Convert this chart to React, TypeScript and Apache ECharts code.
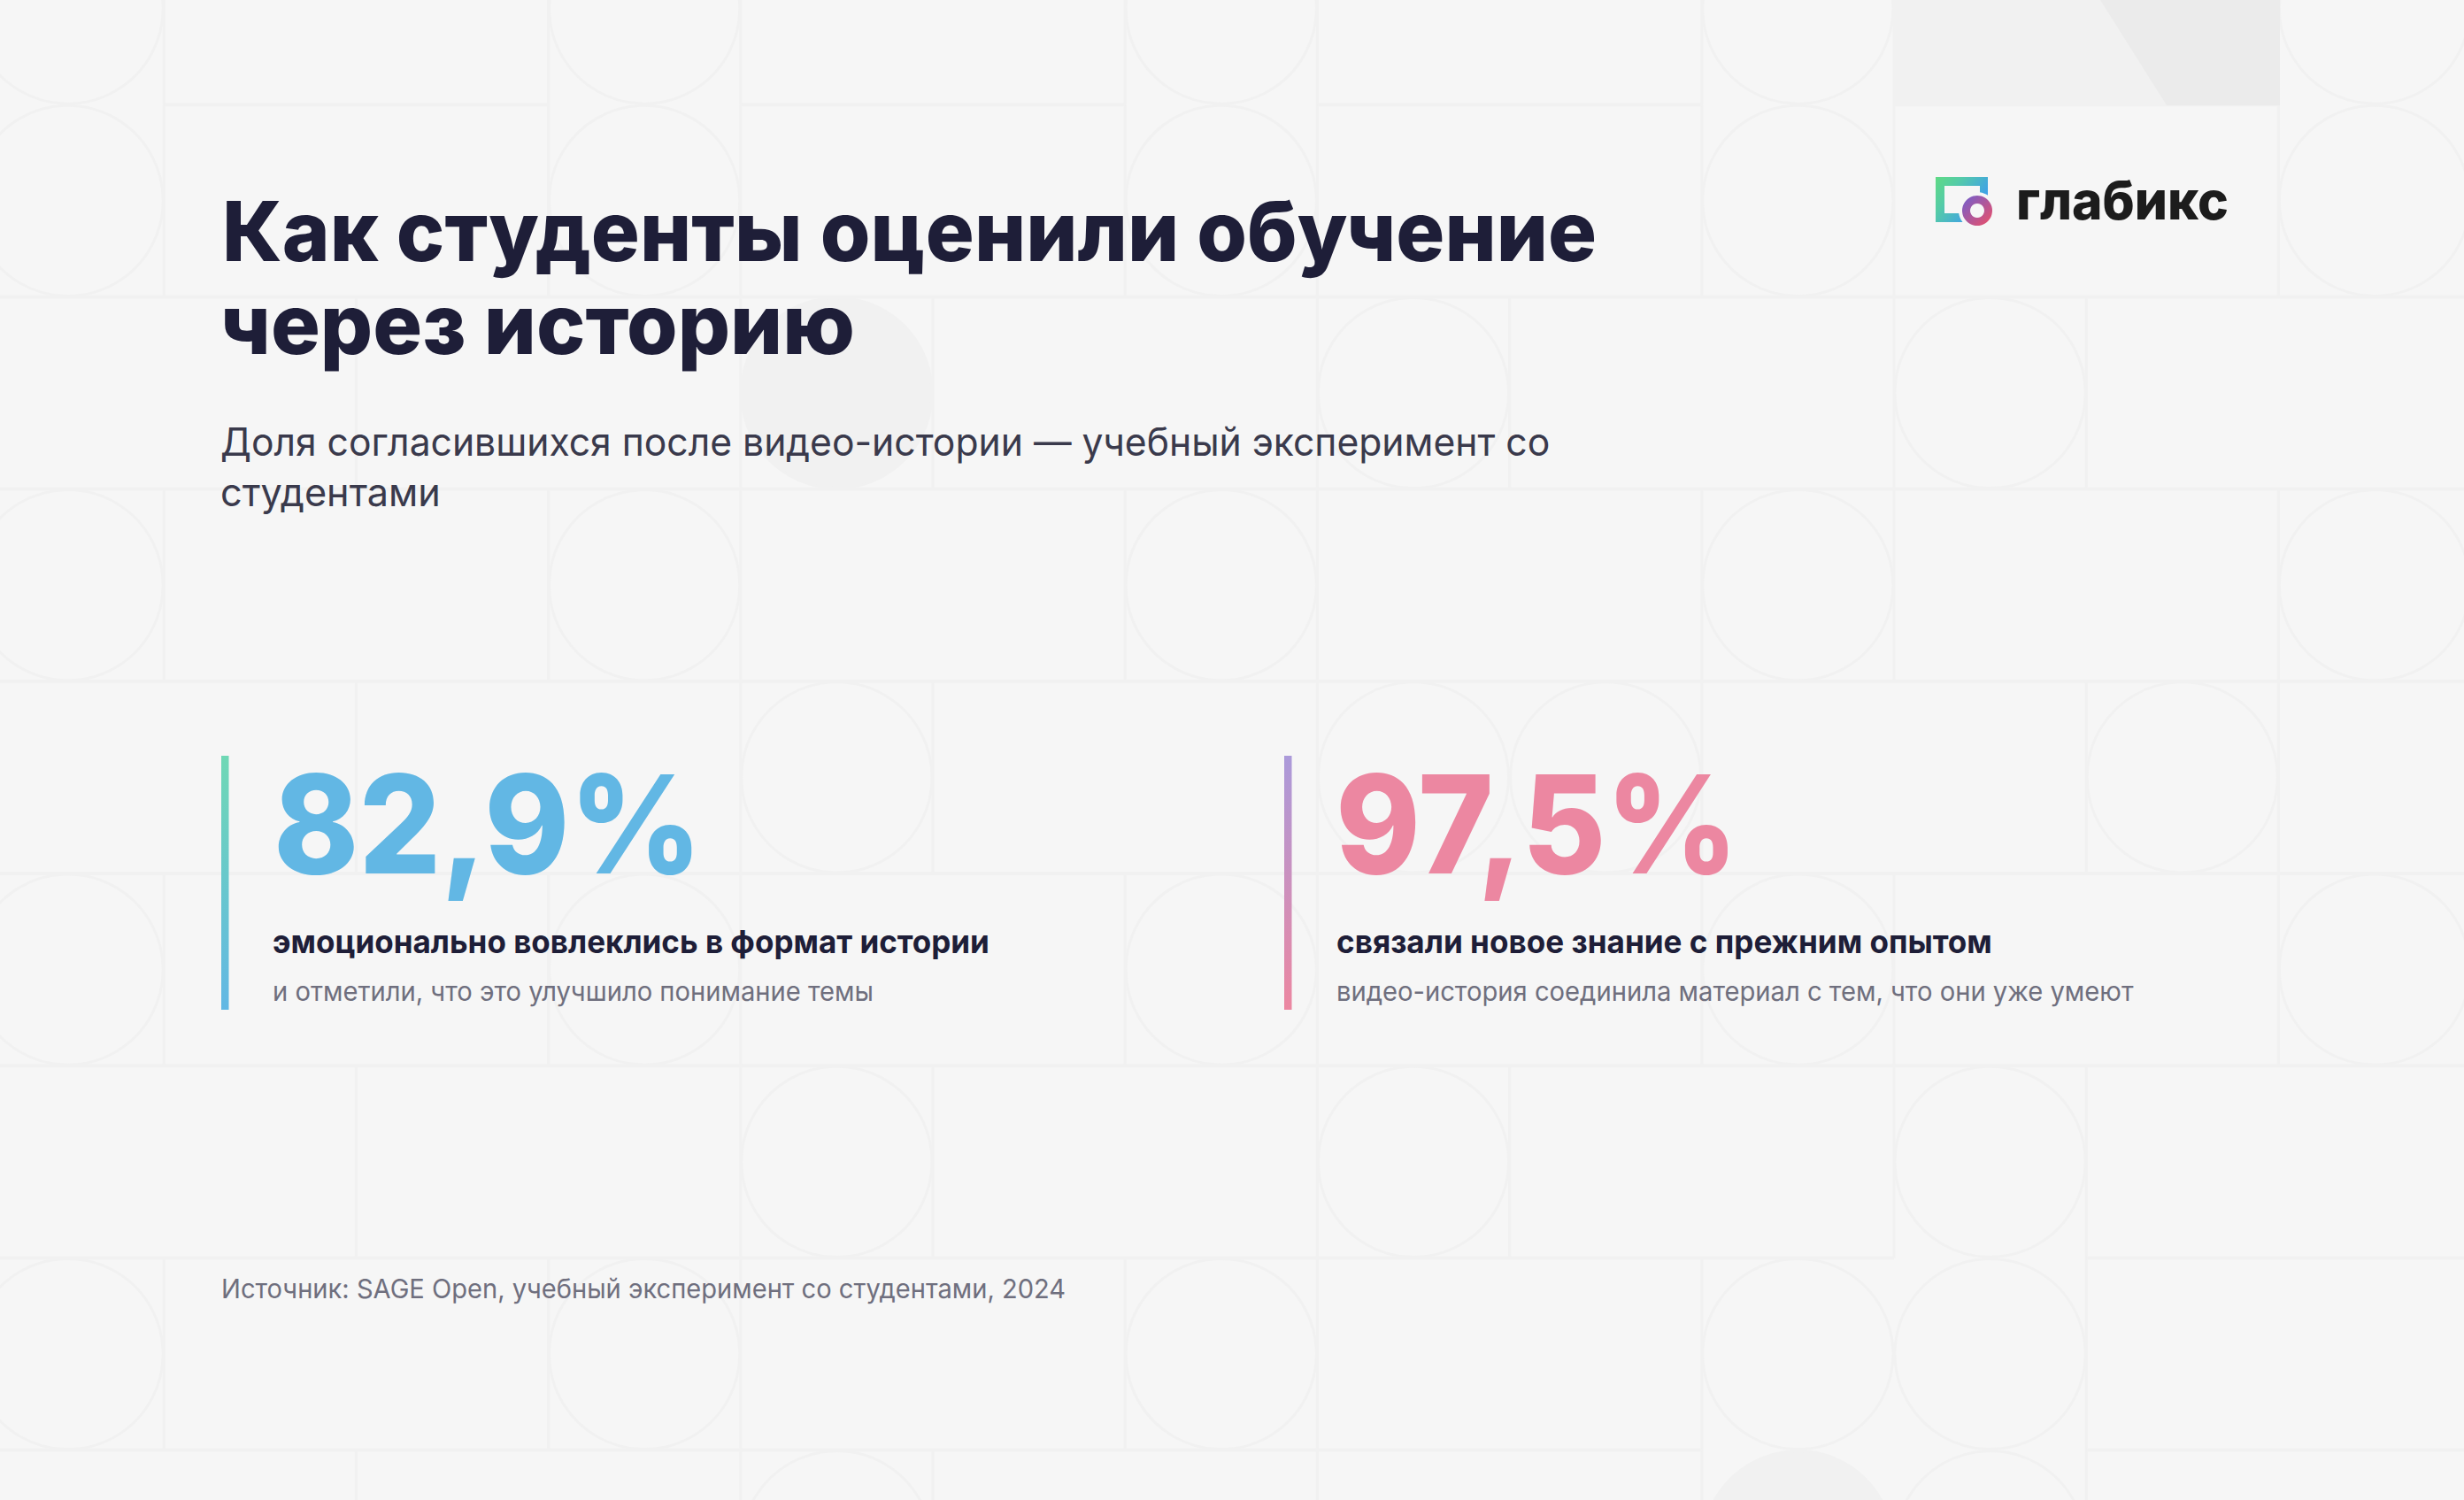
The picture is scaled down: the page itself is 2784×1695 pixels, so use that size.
import { useEffect, useRef } from "react";
import * as echarts from "echarts";

const TITLE_LINES = ["Как студенты оценили обучение", "через историю"];
const SUBTITLE_LINES = ["Доля согласившихся после видео-истории — учебный эксперимент со", "студентами"];
const STAT_VALUES = [82.9, 97.5];
const STAT_LABELS = ["эмоционально вовлеклись в формат истории", "связали новое знание с прежним опытом"];
const STAT_NOTES = ["и отметили, что это улучшило понимание темы", "видео-история соединила материал с тем, что они уже умеют"];
const SOURCE = "Источник: SAGE Open, учебный эксперимент со студентами, 2024";
const BRAND = "глабикс";

// Background pattern, by row of the tile grid: which columns hold a circle and where the vertical rules run.
const ROW_CIRCLES = [
  [0, 3, 6, 9, 12],
  [0, 3, 6, 9, 12],
  [4, 7, 10],
  [0, 3, 6, 9, 12],
  [4, 7, 8, 11],
  [0, 3, 6, 9, 12],
  [4, 7, 10],
  [0, 3, 6, 9, 10],
  [4, 9, 10],
];
const ROW_RULES = [
  [1, 3, 4, 6, 7, 9, 10, 12],
  [1, 3, 4, 6, 7, 9, 10, 12],
  [2, 4, 5, 7, 8, 10, 11],
  [1, 3, 4, 6, 7, 9, 10, 12],
  [2, 4, 5, 7, 9, 11, 12],
  [1, 3, 4, 6, 7, 9, 10, 12],
  [2, 4, 5, 7, 8, 10, 11],
  [1, 3, 4, 6, 7, 9, 11],
  [2, 4, 5, 7, 9, 11],
];
// Horizontal rules under each row, as column spans.
const ROW_SPANS = [
  [[1, 3], [4, 6], [7, 9], [10, 12]],
  [[0, 13]],
  [[0, 13]],
  [[0, 13]],
  [[0, 13]],
  [[0, 13]],
  [[0, 10], [11, 13]],
  [[0, 9], [11, 13]],
];
const FILLED_CIRCLES = ["2:4", "8:9"];

const W = 2784;
const H = 1695;
const CELL = 217.2;
const X0 = -32;
const Y0 = -99;
const BG = "#f6f6f6";
const RULE = "#f1f1f1";
const DARK = "#1e1e38";
const GREY = "#6f6f7e";
const FONT = "Inter";

const ctx = document.createElement("canvas").getContext("2d")!;

// x scale that makes a text run exactly as wide as it is in the reference
function fit(text: string, size: number, weight: number, width: number) {
  ctx.font = `${weight} ${size}px ${FONT}`;
  return width / ctx.measureText(text).width;
}

function label(text: string, x: number, baseline: number, size: number, weight: number, fill: string, width: number) {
  return {
    type: "text",
    x,
    y: baseline - size * 0.36,
    scaleX: fit(text, size, weight, width),
    style: { text, fontFamily: FONT, fontSize: size, fontWeight: weight, fill, align: "left", verticalAlign: "middle" },
  };
}

function pattern() {
  const out: any[] = [];
  ROW_CIRCLES.forEach((cols, r) => {
    cols.forEach((c) => {
      const filled = FILLED_CIRCLES.includes(`${r}:${c}`);
      out.push({
        type: "circle",
        shape: { cx: X0 + CELL * (c + 0.5), cy: Y0 + CELL * (r + 0.5), r: CELL / 2 - 1 },
        style: filled ? { fill: RULE, stroke: RULE, lineWidth: 3 } : { fill: "transparent", stroke: RULE, lineWidth: 3 },
      });
    });
  });
  ROW_RULES.forEach((cols, r) => {
    cols.forEach((c) => {
      const x = X0 + CELL * c;
      out.push({
        type: "line",
        shape: { x1: x, y1: Y0 + CELL * r, x2: x, y2: Y0 + CELL * (r + 1) },
        style: { stroke: RULE, lineWidth: 3 },
      });
    });
  });
  ROW_SPANS.forEach((spans, r) => {
    const y = Y0 + CELL * (r + 1);
    spans.forEach(([a, b]) => {
      out.push({
        type: "line",
        shape: { x1: X0 + CELL * a, y1: y, x2: Math.min(X0 + CELL * b, W), y2: y },
        style: { stroke: RULE, lineWidth: 4 },
      });
    });
  });
  // shaded tile above the logo
  out.push({ type: "rect", shape: { x: 2141, y: 0, width: 433, height: 118 }, style: { fill: "#f1f1f1" } });
  out.push({
    type: "polygon",
    shape: { points: [[2373, 0], [2576, 0], [2576, 119], [2448, 119]] },
    style: { fill: "#ebebeb" },
  });
  return out;
}

function logo() {
  const frame = new echarts.graphic.LinearGradient(0, 0, 1, 0.6, [
    { offset: 0, color: "#5fda84" },
    { offset: 0.35, color: "#55cca6" },
    { offset: 1, color: "#3b98f5" },
  ]);
  const ring = new echarts.graphic.LinearGradient(0, 0, 1, 1, [
    { offset: 0, color: "#6f5fd0" },
    { offset: 1, color: "#ee4f66" },
  ]);
  return [
    {
      type: "polygon",
      shape: {
        points: [[2187, 200], [2246, 200], [2246, 225], [2237, 225], [2237, 210], [2197, 210], [2197, 241], [2225, 241], [2225, 251], [2187, 251]],
      },
      style: { fill: frame },
    },
    { type: "circle", shape: { cx: 2234, cy: 238, r: 21 }, style: { fill: BG } },
    { type: "ring", shape: { cx: 2234, cy: 238, r: 17, r0: 8 }, style: { fill: ring } },
    label(BRAND, 2278, 248, 60, 800, "#1c1c1c", 240),
  ];
}

function stat(i: number, barX: number, textX: number, valueX: number, colors: string[], valueWidth: number, labelWidth: number, noteWidth: number) {
  const value = STAT_VALUES[i].toFixed(1).replace(".", ",") + "%";
  return [
    {
      type: "rect",
      shape: { x: barX, y: 854, width: 8.5, height: 287 },
      style: {
        fill: new echarts.graphic.LinearGradient(0, 0, 0, 1, [
          { offset: 0, color: colors[0] },
          { offset: 1, color: colors[1] },
        ]),
      },
    },
    label(value, valueX, 986, 154, 800, colors[1], valueWidth),
    label(STAT_LABELS[i], textX, 1077, 36, 700, DARK, labelWidth),
    label(STAT_NOTES[i], textX, 1131, 30, 400, GREY, noteWidth),
  ];
}

export default function App() {
  const ref = useRef<HTMLDivElement>(null);

  useEffect(() => {
    if (!ref.current) return;
    const chart = echarts.init(ref.current, undefined, { renderer: "svg" });
    chart.setOption({
      animation: false,
      backgroundColor: BG,
      graphic: {
        elements: [
          ...pattern(),
          label(TITLE_LINES[0], 251, 294, 94, 800, DARK, 1553),
          label(TITLE_LINES[1], 249, 400, 94, 800, DARK, 717),
          label(SUBTITLE_LINES[0], 249, 515, 44, 400, "#3a3a4c", 1502),
          label(SUBTITLE_LINES[1], 249, 572, 44, 400, "#3a3a4c", 249),
          ...stat(0, 250, 308, 309, ["#6fd8b5", "#62b7e4"], 484, 810, 679),
          ...stat(1, 1451, 1510, 1509, ["#ab9ada", "#ec87a1"], 455, 741, 901),
          label(SOURCE, 250, 1467, 30, 400, GREY, 954),
          ...logo(),
        ],
      },
    });
    return () => chart.dispose();
  }, []);

  return <div ref={ref} style={{ position: "absolute", left: 0, top: 0, width: W, height: H }} />;
}
